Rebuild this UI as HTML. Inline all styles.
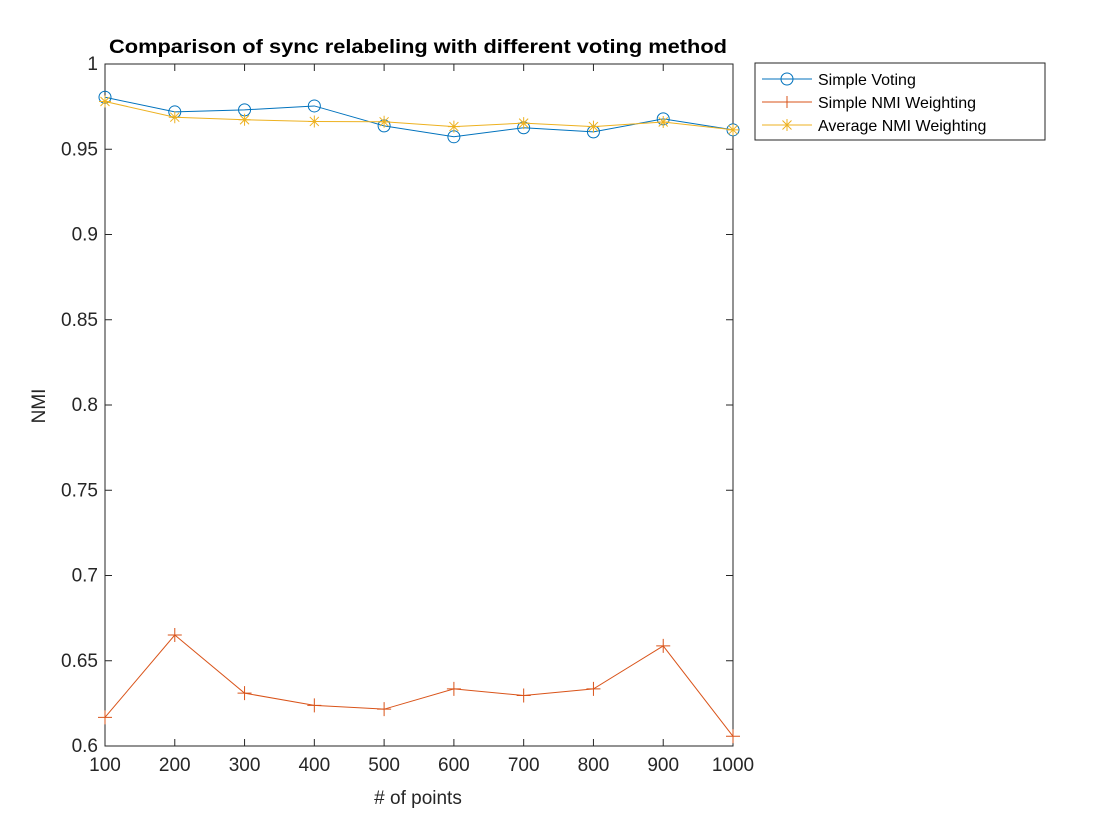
<!DOCTYPE html>
<html><head><meta charset="utf-8"><style>
body{margin:0;background:#fff;}
svg{display:block;font-family:"Liberation Sans",Arial,sans-serif;}
</style></head><body>
<svg id="chart" width="1120" height="840">
<text x="418" y="53" text-anchor="middle" font-size="19" font-weight="bold" textLength="618" lengthAdjust="spacingAndGlyphs">Comparison of sync relabeling with different voting method</text>
<text transform="translate(45,406) rotate(-90)" text-anchor="middle" font-size="19" fill="#262626">NMI</text>
<text x="418" y="804" text-anchor="middle" font-size="19" fill="#262626"># of points</text>
<g id="axes"></g>
<g id="series"></g>
<g>
<rect x="755" y="63" width="290" height="77" fill="#fff" stroke="#262626" stroke-width="1"/>
<g>
<line x1="762" y1="79" x2="812" y2="79" stroke="#0072BD"/><circle cx="787" cy="79" r="6" fill="none" stroke="#0072BD"/>
<text x="818" y="85" font-size="16" fill="#000">Simple Voting</text></g>
<g>
<line x1="762" y1="102" x2="812" y2="102" stroke="#D95319"/><path d="M781 102h12M787 96v12" stroke="#D95319"/>
<text x="818" y="108" font-size="16" fill="#000">Simple NMI Weighting</text></g>
<g>
<line x1="762" y1="125" x2="812" y2="125" stroke="#EDB120"/><path d="M781 125h12M787 119v12M782.5 120.5l9 9M791.5 120.5l-9 9" stroke="#EDB120"/>
<text x="818" y="131" font-size="16" fill="#000">Average NMI Weighting</text></g>
</g>
</svg>
<script>
const categories=[100,200,300,400,500,600,700,800,900,1000];
const simpleVoting=[0.9805,0.9719,0.9731,0.9754,0.9637,0.9573,0.9626,0.9602,0.9678,0.9614];
const simpleNMI=[0.6168,0.6651,0.631,0.6238,0.6216,0.6335,0.6296,0.6335,0.6587,0.6057];
const averageNMI=[0.978,0.9688,0.9673,0.9663,0.9661,0.9633,0.9653,0.9633,0.966,0.9614];
const yTicks=[0.6,0.65,0.7,0.75,0.8,0.85,0.9,0.95,1];
const yTickLabels=["0.6","0.65","0.7","0.75","0.8","0.85","0.9","0.95","1"];
const L=105,R=733,T=64,B=746;
const xs=v=>L+(v-100)/900*(R-L);
const ys=v=>B-(v-0.6)/0.4*(B-T);
const NS="http://www.w3.org/2000/svg";
function mk(tag,attrs,parent){const e=document.createElementNS(NS,tag);for(const k in attrs)e.setAttribute(k,attrs[k]);parent.appendChild(e);return e;}
const ax=document.getElementById('axes');
let box=mk('rect',{x:L,y:T,width:R-L,height:B-T,fill:'none',stroke:'#262626','stroke-width':1},ax);


categories.forEach(c=>{
  const x=xs(c);
  mk('line',{x1:x,y1:B,x2:x,y2:B-7,stroke:'#262626'},ax);
  mk('line',{x1:x,y1:T,x2:x,y2:T+7,stroke:'#262626'},ax);
  const t=mk('text',{x:x,y:B+25,'text-anchor':'middle','font-size':19,fill:'#262626'},ax);
  t.textContent=c;
  
  
});
yTicks.forEach((v,i)=>{
  const y=ys(v);
  mk('line',{x1:L,y1:y,x2:L+7,y2:y,stroke:'#262626'},ax);
  mk('line',{x1:R,y1:y,x2:R-7,y2:y,stroke:'#262626'},ax);
  const t=mk('text',{x:L-7,y:y+6,'text-anchor':'end','font-size':19,fill:'#262626'},ax);
  t.textContent=yTickLabels[i];
  
  
});
const sg=document.getElementById('series');
function draw(vals,color,marker,name){
  const g=mk('g',{},sg);
  
  
  mk('polyline',{points:vals.map((v,i)=>xs(categories[i])+','+ys(v)).join(' '),fill:'none',stroke:color,'stroke-width':1},g);
  vals.forEach((v,i)=>{
    const x=xs(categories[i]),y=ys(v);
    let m;
    if(marker==='o') m=mk('circle',{cx:x,cy:y,r:6,fill:'none',stroke:color},g);
    else if(marker==='+') m=mk('path',{d:`M${x-7} ${y}h14M${x} ${y-7}v14`,stroke:color,fill:'none'},g);
    else m=mk('path',{d:`M${x-6} ${y}h12M${x} ${y-6}v12M${x-4.5} ${y-4.5}l9 9M${x+4.5} ${y-4.5}l-9 9`,stroke:color,fill:'none'},g);
    
    
  });
}
draw(simpleNMI,'#D95319','+','series-simple-nmi');
draw(simpleVoting,'#0072BD','o','series-simple-voting');
draw(averageNMI,'#EDB120','*','series-average-nmi');
</script>
</body></html>
